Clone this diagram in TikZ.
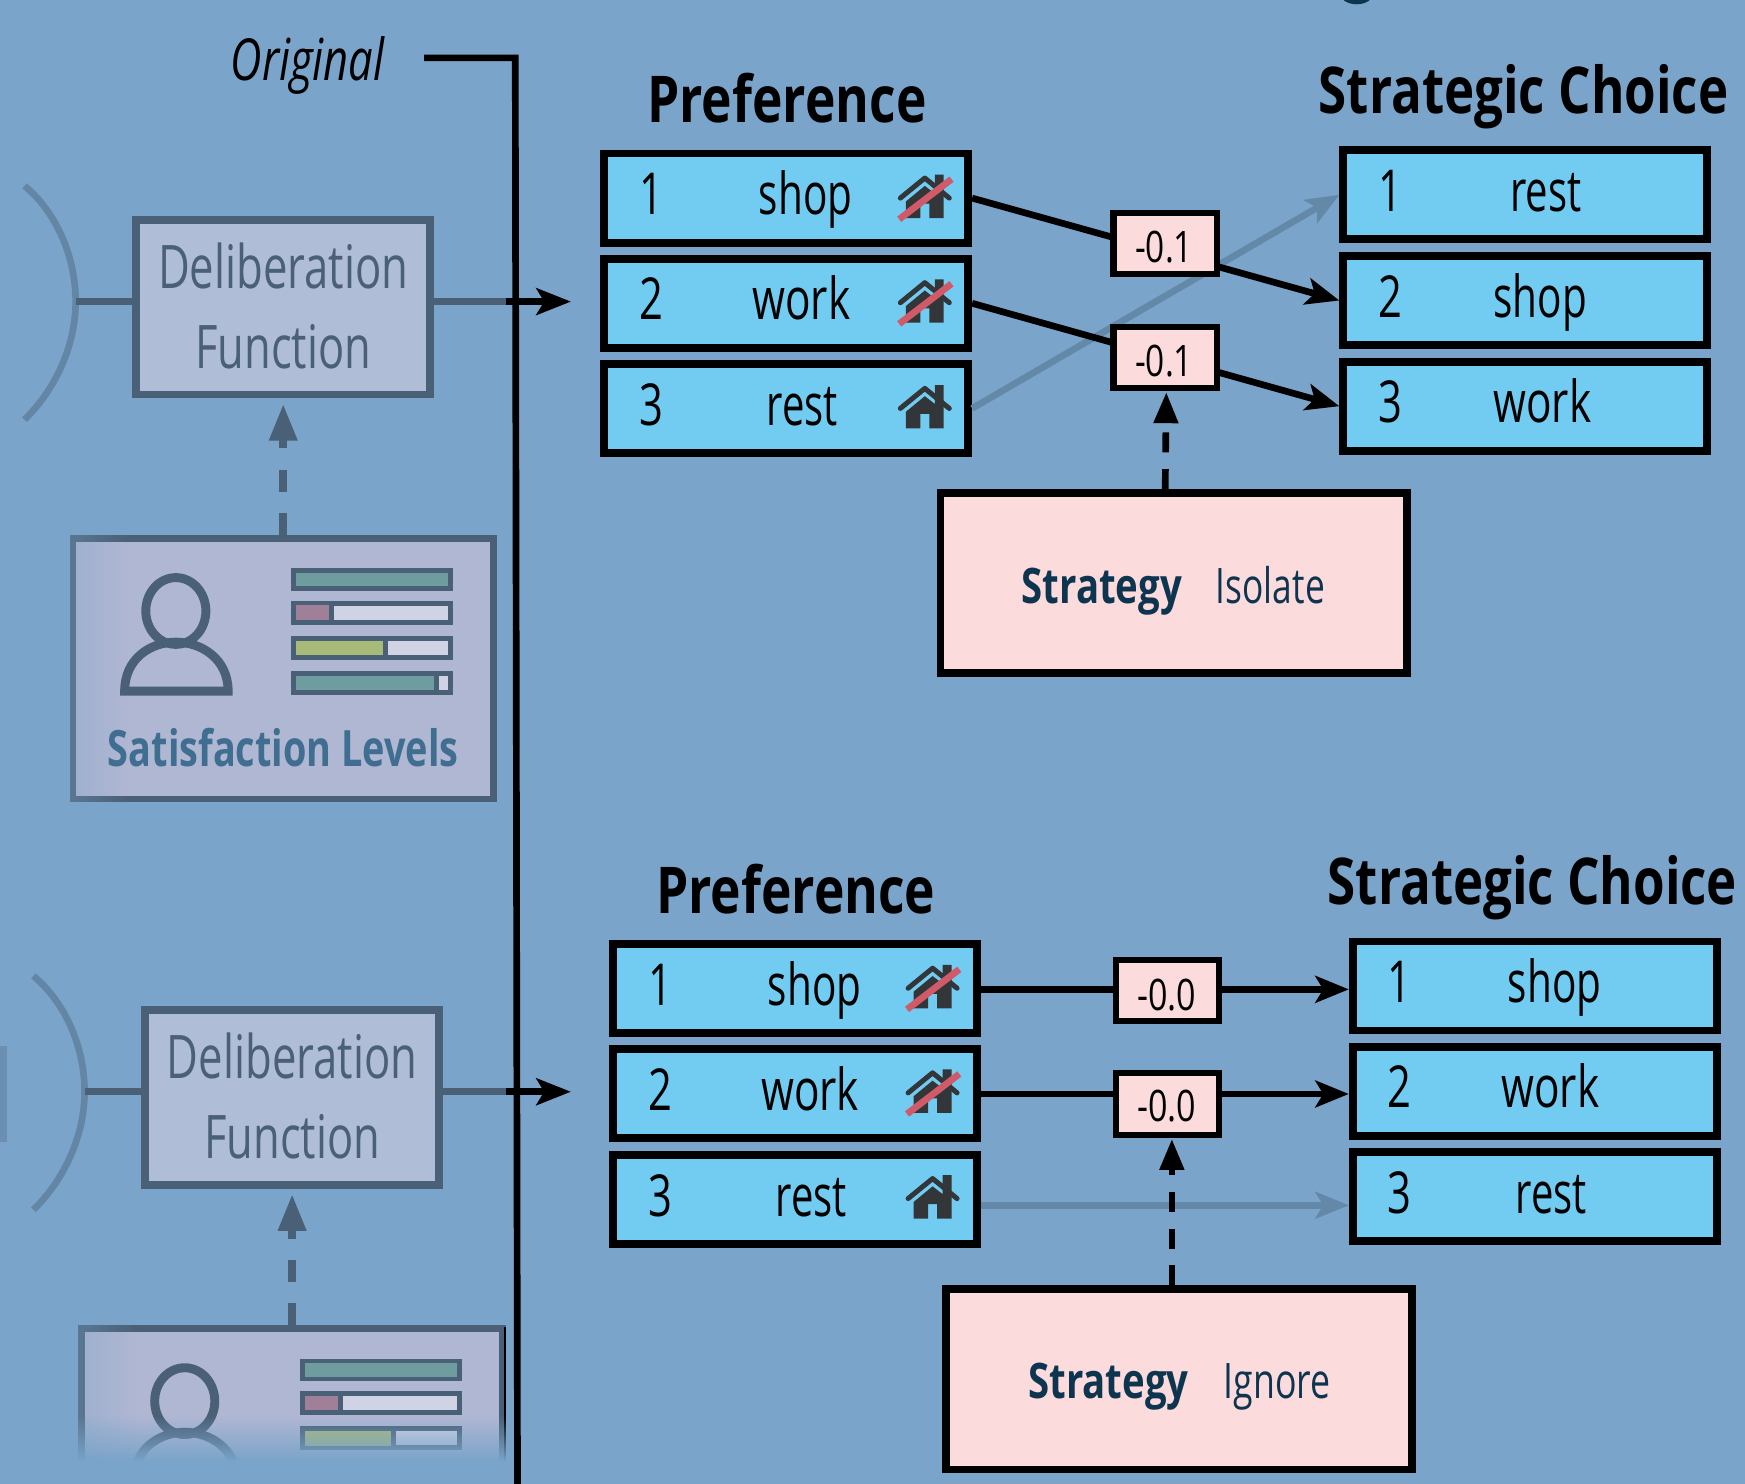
\documentclass[tikz,border=0pt]{standalone}
\usepackage{fontspec}
\usepackage{graphicx}
\setmainfont{Open Sans}
\usetikzlibrary{arrows.meta,fadings}
\definecolor{bgc}{HTML}{7AA4C9}
\definecolor{dimc}{HTML}{4A6076}
\definecolor{arcc}{HTML}{6386A5}
\definecolor{dfill}{HTML}{B0BDD6}
\definecolor{sfill}{HTML}{B0B7D3}
\definecolor{barw}{HTML}{CFD3E4}
\definecolor{teal1}{HTML}{6F9C9E}
\definecolor{pink1}{HTML}{A08098}
\definecolor{yel1}{HTML}{A8BA78}
\definecolor{sattxt}{HTML}{3F6E90}
\definecolor{rowc}{HTML}{72CCF2}
\definecolor{pinkc}{HTML}{FCDBDD}
\definecolor{navyc}{HTML}{0E3550}
\definecolor{grayl}{HTML}{6488A8}
\definecolor{slashc}{HTML}{D05A68}
\definecolor{homec}{HTML}{333638}
\newcommand\fsz[1]{\fontsize{#1}{#1}\selectfont}
\newcommand\fitw[2]{\resizebox{#1pt}{\height}{#2}}
\tikzfading[name=fadeDown, top color=transparent!100, bottom color=transparent!0]
\tikzfading[name=fadeRight, left color=transparent!0, right color=transparent!100]
\tikzset{
  rowbox/.style={draw=black,line width=7pt,fill=rowc,minimum width=327pt,minimum height=80pt,inner sep=0pt},
  edgebox/.style={draw=black,line width=5.5pt,fill=pinkc,minimum width=93pt,minimum height=55pt,inner sep=0pt},
  stratbox/.style={draw=black,line width=7pt,fill=pinkc,minimum width=419pt,minimum height=162pt,inner sep=0pt},
  dfbox/.style={draw=dimc,line width=7pt,fill=dfill,minimum width=264pt,minimum height=157pt,inner sep=0pt},
  satbox/.style={draw=dimc,line width=6pt,fill=sfill,minimum width=378pt,minimum height=234pt,inner sep=0pt},
  plain/.style={inner sep=0pt,outer sep=0pt,anchor=base},
  rowtxt/.style={plain,font=\fsz{52},text=black},
  edgetxt/.style={plain,font=\fsz{39},text=black},
  titletxt/.style={plain,font=\fsz{58}\bfseries,text=black},
  dftxt/.style={plain,font=\fsz{54},text=dimc},
  strattxt/.style={plain,font=\fsz{44},text=navyc},
  choice/.style={line width=6pt,draw=black,-{Stealth[length=30pt,width=24pt,inset=7pt]}},
  choicefaint/.style={line width=6pt,draw=grayl,-{Stealth[length=30pt,width=24pt,inset=7pt]}},
  dashup/.style={line width=6pt,draw=black,dash pattern=on 18pt off 15pt,-{Triangle[length=28pt,width=21pt]}},
  dashdim/.style={line width=7pt,draw=dimc,dash pattern=on 20pt off 19pt,-{Triangle[length=33pt,width=24pt]}},
  pics/homeicon/.style={code={
    \fill[homec] (-17,3) -- (0,-11) -- (9,-4) -- (9,-21) -- (17,-21) -- (17,3) -- (17,18) -- (4,18) -- (4,5) -- (-4,5) -- (-4,18) -- (-17,18) -- cycle;
    \draw[homec,line width=4.5pt,line cap=round,line join=round] (-22,0) -- (0,-18) -- (22,0);
  }},
  pics/slashhome/.style={code={
    \pic {homeicon};
    \draw[slashc,line width=6pt] (-23,19) -- (24,-17);
  }}
}
\newcommand\tablerow[8]{%
  \node[rowbox] (#1) at (#2,#3) {};
  \node[rowtxt] (#1n) at (#4,#3+15) {\scalebox{.72}[1]{#6}};
  \node[rowtxt] (#1t) at (#5,#3+15) {\fitw{#8}{#7}};
}
\newcommand\satbar[4]{%
  \draw[dimc,line width=4.5pt,fill=barw] (264,#1) rectangle (405,#2);
  \fill[#4] (266,#1+2) rectangle (#3,#2-2);
  \ifdim #3pt<400pt \draw[dimc,line width=4.5pt] (#3,#1) -- (#3,#2);\fi
}
\newcommand\personbars{%
  \draw[dimc,line width=8pt] (158,549) ellipse (27 and 30);
  \draw[dimc,line width=8pt] (112,621) .. controls (112,592) and (135,577) .. (158,577) .. controls (181,577) and (205,592) .. (205,621) -- cycle;
  \satbar{513}{529}{403}{teal1}
  \satbar{542}{559}{298}{pink1}
  \satbar{574}{591}{346}{yel1}
  \satbar{605}{622}{392}{teal1}
}
\newcommand\dfunit[3]{%
  \coordinate (arc#1) at (68,271);
  \draw[arcc,line width=6pt] (22,167) .. controls (50,190) and (68,230) .. (arc#1) .. controls (68,310) and (50,350) .. (22,377);
  \node[dfbox] (df#1) at (254.5,276) {};
  \draw[dimc,line width=6pt] (arc#1) -- (df#1.west |- arc#1);
  \node[dftxt] (df#1a) at (254.5,259) {\fitw{225}{Deliberation}};
  \node[dftxt] (df#1b) at (254.5,331) {\fitw{158}{Function}};
  \node[satbox] (sat#1) at (254.5,601) {};
  \fill[bgc,opacity=.35,path fading=fadeRight] (62,480) rectangle (115,722);
  \draw[dashdim] (sat#1.north) -- ([yshift=-5pt]df#1.south);
  \personbars
  \coordinate (jn#1) at (#2,271);
  \coordinate (tg#1) at (#3,271);
  \draw[dimc,line width=6pt] (df#1.east |- jn#1) -- (jn#1);
  \draw[black,line width=6pt,-{Stealth[length=31pt,width=24pt,inset=7pt]}] (jn#1) -- (tg#1);
}
\begin{document}
\begin{tikzpicture}[x=1pt,y=-1pt]
\useasboundingbox (0,0) rectangle (1568,1332.6);
\clip (-3,-3) rectangle (1571,1337);
\fill[bgc] (-3,-3) rectangle (1571,1337);
\fill[navyc] (1206,-1) .. controls (1212,5.5) and (1226,5.5) .. (1232,-1) -- cycle;
\fill[arcc!70!bgc] (0,940) rectangle (6,1026);

% left column, upper
\dfunit{1}{455}{513}
\node[plain,font=\fsz{45}\bfseries,text=sattxt] (satlabel) at (254.5,689) {\fitw{315}{Satisfaction Levels}};

% left column, lower
\begin{scope}[shift={(8,710)}]
\dfunit{2}{447}{505}
\end{scope}
\draw[black,line width=1.5pt] (454,1192) -- (454,1320);
\fill[bgc,path fading=fadeDown] (60,1272) rectangle (462,1313);
\fill[bgc] (60,1312.5) rectangle (462,1340);

% original line
\node[plain,font=\fsz{52}\itshape,text=black] (orig) at (276.5,72) {\fitw{138}{Original}};
\coordinate (origstart) at (381,52);
\coordinate (origcorner) at (463,52);
\coordinate (origend) at (465,1340);
\draw[black,line width=6pt,line join=miter] (origstart) -- (origcorner) -- (origend);

% upper tables
\node[titletxt] (pt1) at (707,110) {\fitw{251}{Preference}};
\node[titletxt] (ct1) at (1369,102) {\fitw{368}{Strategic Choice}};
\tablerow{pa1}{706.5}{178}{585}{724}{1}{shop}{84}
\tablerow{pa2}{706.5}{272.5}{585}{720}{2}{work}{88}
\tablerow{pa3}{706.5}{367}{585}{721}{3}{rest}{64}
\tablerow{ra1}{1370.5}{175}{1249}{1389}{1}{rest}{64}
\tablerow{ra2}{1370.5}{270}{1249}{1384}{2}{shop}{84}
\tablerow{ra3}{1370.5}{365}{1249}{1386}{3}{work}{88}
\pic at (831,178) {slashhome};
\pic at (831,272) {slashhome};
\pic at (831,367) {homeicon};
\draw[choicefaint] (pa3.east) -- (ra1.west);
\draw[choice] (pa1.east) -- (ra2.west);
\draw[choice] (pa2.east) -- (ra3.west);
\node[edgebox] (ea1) at (1047,219) {};
\node[edgetxt] (ea1t) at (1046,236) {\fitw{52}{-0.1}};
\node[edgebox] (ea2) at (1047,321) {};
\node[edgetxt] (ea2t) at (1046,338) {\fitw{52}{-0.1}};
\node[stratbox] (sa) at (1054.5,524) {};
\node[strattxt,font=\fsz{44}\bfseries] (sa1) at (990,542) {\fitw{144}{Strategy}};
\node[strattxt] (sa2) at (1141.5,542) {\fitw{98}{Isolate}};
\draw[dashup] (ea2.south |- sa.north) -- ([xshift=1pt,yshift=-1pt]ea2.south);

% lower tables
\node[titletxt] (pt2) at (715,821) {\fitw{251}{Preference}};
\node[titletxt] (ct2) at (1377,813) {\fitw{368}{Strategic Choice}};
\tablerow{pb1}{714.5}{888.5}{593}{732}{1}{shop}{84}
\tablerow{pb2}{714.5}{982.5}{593}{728}{2}{work}{88}
\tablerow{pb3}{714.5}{1078}{593}{729}{3}{rest}{64}
\tablerow{rb1}{1379}{886}{1257}{1397}{1}{shop}{84}
\tablerow{rb2}{1379}{980.5}{1257}{1393}{2}{work}{88}
\tablerow{rb3}{1379}{1075}{1257}{1394}{3}{rest}{64}
\pic at (838,888) {slashhome};
\pic at (838,982) {slashhome};
\pic at (838,1077) {homeicon};
\draw[choicefaint] ([yshift=-5pt]pb3.east) -- ([yshift=-5pt]pb3.east -| rb3.west);
\draw[choice] ([yshift=-.5pt]pb1.east) -- ([yshift=-.5pt]pb1.east -| rb1.west);
\draw[choice] ([yshift=-.5pt]pb2.east) -- ([yshift=-.5pt]pb2.east -| rb2.west);
\node[edgebox] (eb1) at (1049,890) {};
\node[edgetxt] (eb1t) at (1048.5,908) {\fitw{53}{-0.0}};
\node[edgebox] (eb2) at (1049,992) {};
\node[edgetxt] (eb2t) at (1048.5,1008) {\fitw{53}{-0.0}};
\node[stratbox] (sb) at (1059.5,1239.5) {};
\node[strattxt,font=\fsz{44}\bfseries] (sb1) at (996,1257) {\fitw{144}{Strategy}};
\node[strattxt] (sb2) at (1147.5,1257) {\fitw{96}{Ignore}};
\draw[dashup] ([xshift=4pt]eb2.south |- sb.north) -- ([xshift=4pt,yshift=-1pt]eb2.south);
\end{tikzpicture}
\end{document}
